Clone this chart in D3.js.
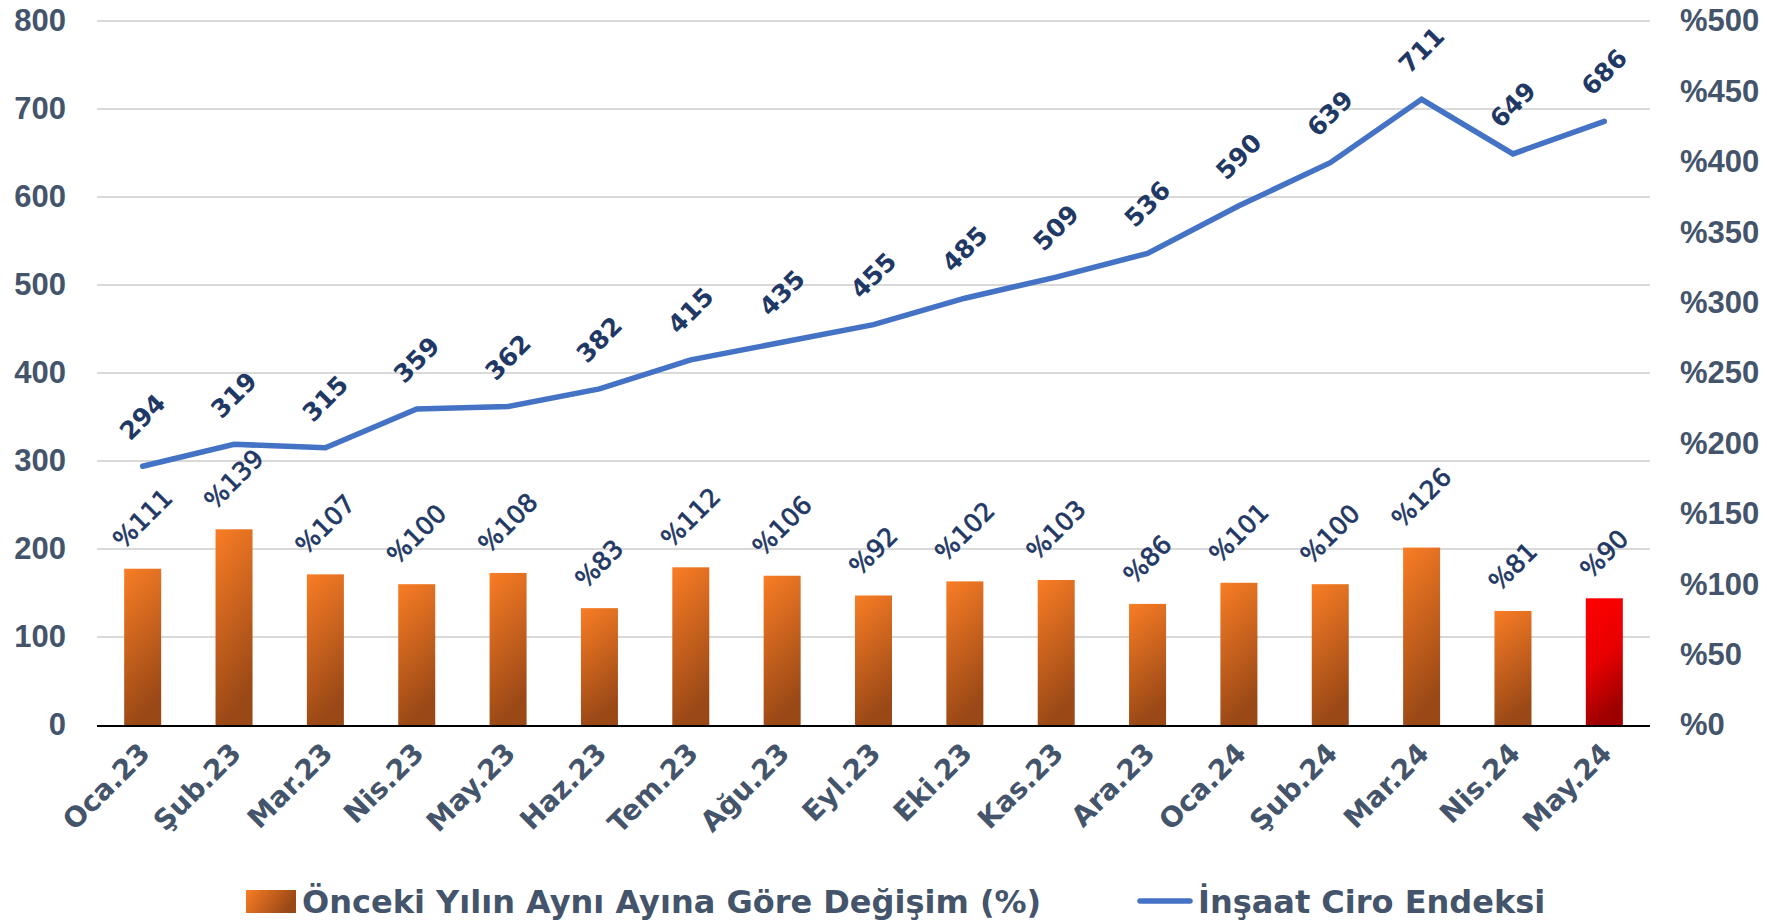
<!DOCTYPE html>
<html><head><meta charset="utf-8">
<script src="https://cdn.jsdelivr.net/npm/d3@7"></script>
<style>
html,body{margin:0;padding:0;background:#fff;}
svg{display:block;font-family:"DejaVu Sans",sans-serif;}
</style></head>
<body>
<svg id="c" width="1767" height="923"></svg>
<script>
const categories = ["Oca.23","Şub.23","Mar.23","Nis.23","May.23","Haz.23","Tem.23","Ağu.23","Eyl.23","Eki.23","Kas.23","Ara.23","Oca.24","Şub.24","Mar.24","Nis.24","May.24"];
const changePct = [111,139,107,100,108,83,112,106,92,102,103,86,101,100,126,81,90];
const ciroIndex = [294,319,315,359,362,382,415,435,455,485,509,536,590,639,711,649,686];
const leftTicks = [0,100,200,300,400,500,600,700,800];
const rightTicks = [0,50,100,150,200,250,300,350,400,450,500];
const seriesNames = ["Önceki Yılın Aynı Ayına Göre Değişim (%)","İnşaat Ciro Endeksi"];

const svg = d3.select("#c");
const L = 97, R = 1650, T = 21, B = 725;
const x = d3.scaleBand().domain(categories).range([L,R]).paddingInner(0.595).paddingOuter(0.2975);
const yL = d3.scaleLinear().domain([0,800]).range([B,T]);
const yR = d3.scaleLinear().domain([0,500]).range([B,T]);
const axisColor = "#44546a", labelColor = "#1f3864", lineColor = "#4472c4";

const defs = svg.append("defs");
const g1 = defs.append("linearGradient").attr("id","gOr").attr("x1",0).attr("y1",0).attr("x2",0.25).attr("y2",1);
g1.append("stop").attr("offset","0%").attr("stop-color","#f97d25");
g1.append("stop").attr("offset","100%").attr("stop-color","#9a4816");
const g2 = defs.append("linearGradient").attr("id","gRed").attr("x1",0).attr("y1",0).attr("x2",0.25).attr("y2",1);
g2.append("stop").attr("offset","0%").attr("stop-color","#ff0000");
g2.append("stop").attr("offset","55%").attr("stop-color","#e80000");
g2.append("stop").attr("offset","100%").attr("stop-color","#9e0000");
const g3 = defs.append("linearGradient").attr("id","gLeg").attr("x1",0).attr("y1",0).attr("x2",1).attr("y2",0.3);
g3.append("stop").attr("offset","0%").attr("stop-color","#f97d25");
g3.append("stop").attr("offset","100%").attr("stop-color","#9a4816");

// gridlines
svg.append("g").selectAll("line").data(leftTicks.filter(d=>d>0)).join("line")
  .attr("x1",L).attr("x2",R).attr("y1",d=>yL(d)).attr("y2",d=>yL(d))
  .attr("stroke","#d9d9d9").attr("stroke-width",2);

// left axis
const la = svg.append("g").attr("transform",`translate(${L},0)`)
  .call(d3.axisLeft(yL).tickValues(leftTicks).tickSize(0).tickPadding(31).tickFormat(d3.format("d")));
la.select(".domain").remove();
la.selectAll("text").attr("fill",axisColor).attr("font-size",31).attr("font-weight","bold");

// right axis
const ra = svg.append("g").attr("transform",`translate(${R},0)`)
  .call(d3.axisRight(yR).tickValues(rightTicks).tickSize(0).tickPadding(30).tickFormat(d=>"%"+d));
ra.select(".domain").remove();
ra.selectAll("text").attr("fill",axisColor).attr("font-size",31).attr("font-weight","bold");

// bars
svg.append("g").selectAll("rect").data(categories).join("rect")
  .attr("x",d=>x(d)).attr("width",x.bandwidth())
  .attr("y",(d,i)=>yR(changePct[i])).attr("height",(d,i)=>B-yR(changePct[i]))
  .attr("fill",(d,i)=>i===categories.length-1?"url(#gRed)":"url(#gOr)");

// x axis line
svg.append("line").attr("x1",L).attr("x2",R).attr("y1",B+1).attr("y2",B+1).attr("stroke","#000").attr("stroke-width",2);

// x labels
svg.append("g").selectAll("text").data(categories).join("text")
  .attr("transform",d=>`translate(${x(d)+x.bandwidth()/2-5},${B+16}) rotate(-45)`)
  .attr("text-anchor","end").attr("dy","0.7em")
  .attr("fill",axisColor).attr("font-size",28).attr("font-weight","bold").text(d=>d);

// line
const line = d3.line().x((d,i)=>x(categories[i])+x.bandwidth()/2).y(d=>yL(d));
svg.append("path").datum(ciroIndex).attr("d",line).attr("fill","none")
  .attr("stroke",lineColor).attr("stroke-width",5.5).attr("stroke-linecap","round").attr("stroke-linejoin","miter");

// rotated labels helper
function rotLabel(sel, cx, cy, gap){
  sel.each(function(d,i){
    const t = d3.select(this);
    const w = this.getComputedTextLength();
    const h = parseFloat(t.attr("font-size"))*0.75;
    const H = (w+h)/Math.SQRT2;
    t.attr("transform",`translate(${cx(d,i)},${cy(d,i)-gap-H/2}) rotate(-45)`);
  });
}
const bl = svg.append("g").selectAll("text").data(changePct).join("text")
  .attr("text-anchor","middle").attr("dominant-baseline","central")
  .attr("fill",labelColor).attr("stroke",labelColor).attr("stroke-width",0.7)
  .attr("font-size",25).text(d=>"%"+d);
rotLabel(bl,(d,i)=>x(categories[i])+x.bandwidth()/2,(d)=>yR(d),18);

const ll = svg.append("g").selectAll("text").data(ciroIndex).join("text")
  .attr("text-anchor","middle").attr("dominant-baseline","central")
  .attr("fill",labelColor).attr("font-size",25).attr("font-weight","bold").text(d=>d);
rotLabel(ll,(d,i)=>x(categories[i])+x.bandwidth()/2,(d)=>yL(d),24);

// legend
svg.append("rect").attr("x",246).attr("y",890).attr("width",50).attr("height",23).attr("fill","url(#gLeg)");
svg.append("text").attr("x",302).attr("y",913).attr("fill",axisColor).attr("font-size",32).attr("font-weight","bold").text(seriesNames[0]);
svg.append("line").attr("x1",1140).attr("x2",1190).attr("y1",901).attr("y2",901).attr("stroke",lineColor).attr("stroke-width",5.5).attr("stroke-linecap","round");
svg.append("text").attr("x",1198).attr("y",913).attr("fill",axisColor).attr("font-size",32).attr("font-weight","bold").text(seriesNames[1]);
</script>
</body></html>
